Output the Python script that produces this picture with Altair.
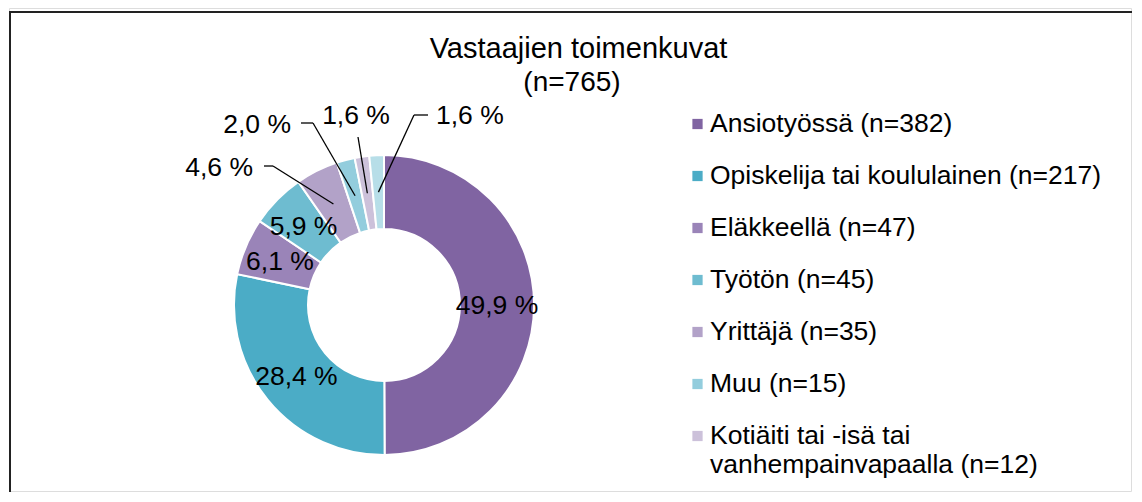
import math
import altair as alt
import pandas as pd

# ---- data ----
categories = [
    "Ansiotyössä",
    "Opiskelija tai koululainen",
    "Eläkkeellä",
    "Työtön",
    "Yrittäjä",
    "Muu",
    "Kotiäiti tai -isä tai vanhempainvapaalla",
    "Muu tilanne",
]
counts = [382, 217, 47, 45, 35, 15, 12, 12]
colors = ["#8064A2", "#4BACC6", "#9A84B8", "#6EBCD0", "#B2A2C8", "#93CDDD", "#CCC1DA", "#B7DEE8"]
legend_labels = [
    "Ansiotyössä (n=382)",
    "Opiskelija tai koululainen (n=217)",
    "Eläkkeellä (n=47)",
    "Työtön (n=45)",
    "Yrittäjä (n=35)",
    "Muu (n=15)",
    "Kotiäiti tai -isä tai\nvanhempainvapaalla (n=12)",
]
title_text = "Vastaajien toimenkuvat"
subtitle_text = "(n=765)"

# ---- layout ----
W, H = 1124, 484
CX, CY = 375, 297
R_OUT, R_IN = 150, 76
R_LAB = 113
FONT = "Liberation Sans"
FS = 26.5

total = sum(counts)
df = pd.DataFrame({"cat": categories, "n": counts, "order": range(len(counts))})
df["pct"] = df["n"] / total * 100
df["label"] = df["pct"].map(lambda v: f"{v:.1f}".replace(".", ",") + " %")
cum = df["n"].cumsum() - df["n"] / 2
df["theta"] = cum / total * 2 * math.pi
df["mx"] = CX + R_LAB * df["theta"].map(math.sin)
df["my"] = CY - R_LAB * df["theta"].map(math.cos)

# outside label layout (offsets from donut centre): elbow, line end, label anchor, align
outside = {
    "Yrittäjä": ((-111, -139), (-120, -139), (-131, -129), "right"),
    "Muu": ((-71, -182), (-83, -182), (-93, -172), "right"),
    "Kotiäiti tai -isä tai vanhempainvapaalla": ((-26, -168), (-26, -168), (-28, -181), "center"),
    "Muu tilanne": ((30, -190), (44, -190), (52, -181), "left"),
}

inside_rows, out_rows, seg_rows = [], [], []
for _, r in df.iterrows():
    if r["cat"] in outside:
        el, en, la, al = outside[r["cat"]]
        seg_rows.append({"x": r["mx"], "y": r["my"], "x2": CX + el[0], "y2": CY + el[1]})
        seg_rows.append({"x": CX + el[0], "y": CY + el[1], "x2": CX + en[0], "y2": CY + en[1]})
        out_rows.append({"x": CX + la[0], "y": CY + la[1], "label": r["label"], "align": al})
    else:
        inside_rows.append({"x": r["mx"], "y": r["my"] + 9, "label": r["label"]})

inside_df = pd.DataFrame(inside_rows)
out_df = pd.DataFrame(out_rows)
seg_df = pd.DataFrame(seg_rows)

color_scale = alt.Scale(domain=categories, range=colors)

donut = alt.Chart(df).mark_arc(
    outerRadius=R_OUT, innerRadius=R_IN, stroke="white", strokeWidth=2
).encode(
    theta=alt.Theta("n:Q", stack=True),
    order=alt.Order("order:Q"),
    color=alt.Color("cat:N", scale=color_scale, legend=None),
    x=alt.value(CX),
    y=alt.value(CY),
)

in_text = alt.Chart(inside_df).mark_text(
    font=FONT, fontSize=FS, color="black", align="center", baseline="alphabetic"
).encode(
    x=alt.X("x:Q", scale=None, axis=None),
    y=alt.Y("y:Q", scale=None, axis=None),
    text="label:N",
)

segs = alt.Chart(seg_df).mark_rule(color="black", strokeWidth=1.3).encode(
    x=alt.X("x:Q", scale=None, axis=None),
    y=alt.Y("y:Q", scale=None, axis=None),
    x2="x2:Q",
    y2="y2:Q",
)

out_layers = []
for al in ["left", "center", "right"]:
    sub = out_df[out_df["align"] == al]
    if len(sub):
        out_layers.append(
            alt.Chart(sub).mark_text(
                font=FONT, fontSize=FS, color="black", align=al, baseline="alphabetic"
            ).encode(
                x=alt.X("x:Q", scale=None, axis=None),
                y=alt.Y("y:Q", scale=None, axis=None),
                text="label:N",
            )
        )

leg_df = pd.DataFrame({"cat": categories[:7], "lab": legend_labels})
leg_y = alt.Y("cat:N", sort=categories[:7],
              scale=alt.Scale(type="point", domain=categories[:7], range=[116, 428], padding=0),
              axis=None)
leg_sq = alt.Chart(leg_df).mark_square(size=105, opacity=1).encode(
    x=alt.value(688.5),
    y=leg_y,
    color=alt.Color("cat:N", scale=color_scale, legend=None),
)
leg_tx = alt.Chart(leg_df).mark_text(
    font=FONT, fontSize=FS, color="black", align="left", baseline="alphabetic",
    dy=8, lineBreak="\n", lineHeight=29
).encode(
    x=alt.value(701),
    y=leg_y,
    text="lab:N",
)

one = pd.DataFrame({"t": [title_text], "s": [subtitle_text]})
title = alt.Chart(one).mark_text(
    font=FONT, fontSize=29, color="black", align="center", baseline="alphabetic"
).encode(x=alt.value(569.5), y=alt.value(50), text="t:N")
subtitle = alt.Chart(one).mark_text(
    font=FONT, fontSize=28, color="black", align="center", baseline="alphabetic"
).encode(x=alt.value(563), y=alt.value(83), text="s:N")

frame_left = alt.Chart(one).mark_rule(color="#222222", strokeWidth=2).encode(
    x=alt.value(1), y=alt.value(4), y2=alt.value(H)
)
frame_top = alt.Chart(one).mark_rule(color="#222222", strokeWidth=2).encode(
    x=alt.value(0), x2=alt.value(W), y=alt.value(4)
)

chart = alt.layer(
    frame_left, frame_top, donut, segs, in_text, *out_layers, leg_sq, leg_tx, title, subtitle
).resolve_scale(
    x="independent", y="independent"
).properties(
    width=W, height=H,
    autosize=alt.AutoSizeParams(type="fit", contains="padding"),
    padding=0,
).configure_view(strokeWidth=0, stroke="transparent").configure(background="transparent")

chart.save("out.html", embed_options={"renderer": "svg", "actions": False})
